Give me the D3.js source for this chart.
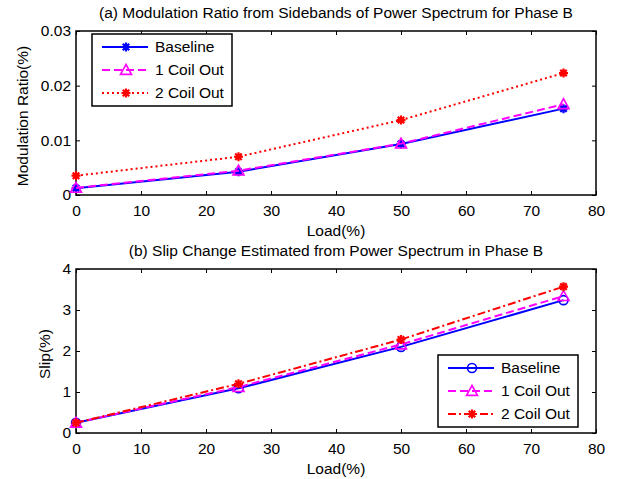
<!DOCTYPE html>
<html>
<head>
<meta charset="utf-8">
<script src="https://cdn.jsdelivr.net/npm/d3@7"></script>
<style>
  body { margin: 0; background: #fff; }
  text { font-family: "Liberation Sans", Arial, sans-serif; font-size: 15.5px; fill: #000; }
</style>
</head>
<body>
<svg id="chart" width="617" height="479"></svg>
<script>
// values
const loads = [0, 25, 50, 75];
const xTicks = [0, 10, 20, 30, 40, 50, 60, 70, 80];
const seriesNames = ['Baseline', '1 Coil Out', '2 Coil Out'];

const ratioBaseline = [0.00122, 0.00427, 0.00933, 0.0158];
const ratio1Coil = [0.0013, 0.00445, 0.0094, 0.0166];
const ratio2Coil = [0.00353, 0.007, 0.0137, 0.0223];
const ratioTicks = [0, 0.01, 0.02, 0.03];

const slipBaseline = [0.25, 1.09, 2.1, 3.24];
const slip1Coil = [0.25, 1.12, 2.16, 3.34];
const slip2Coil = [0.25, 1.2, 2.28, 3.57];
const slipTicks = [0, 1, 2, 3, 4];

const svg = d3.select('#chart');
const x = d3.scaleLinear().domain([0, 80]).range([76, 596]);

function drawMarker(g, shape, color, cx, cy) {
  if (shape === 'circle') {
    g.append('circle').attr('cx', cx).attr('cy', cy).attr('r', 4.5)
      .attr('fill', 'none').attr('stroke', color).attr('stroke-width', 1.6);
  } else if (shape === 'triangle') {
    const s = 5.5;
    g.append('path')
      .attr('d', `M${cx},${cy - s}L${cx + s},${cy + s * 0.8}L${cx - s},${cy + s * 0.8}Z`)
      .attr('fill', 'none').attr('stroke', color).attr('stroke-width', 1.6);
  } else {
    const r = 4.5, d = r * 0.72;
    g.append('path')
      .attr('d', `M${cx - r},${cy}H${cx + r}M${cx},${cy - r}V${cy + r}` +
        `M${cx - d},${cy - d}L${cx + d},${cy + d}M${cx - d},${cy + d}L${cx + d},${cy - d}`)
      .attr('stroke', color).attr('stroke-width', 2.2).attr('fill', 'none');
  }
}

function label(txt, tx, ty, rot) {
  svg.append('text')
    .attr('transform', `translate(${tx},${ty})` + (rot ? ' rotate(-90)' : ''))
    .attr('text-anchor', 'middle')
    .attr('dy', '0.35em')
    .text(txt);
}

function panel(opt) {
  const y = d3.scaleLinear().domain(opt.yDomain).range([opt.bottom, opt.top]);
  const g = svg.append('g');

  g.append('g').attr('transform', `translate(0,${opt.bottom})`)
    .call(d3.axisBottom(x).tickValues(xTicks).tickSizeInner(-4).tickSizeOuter(0).tickPadding(10));
  g.append('g').attr('transform', `translate(0,${opt.top})`)
    .call(d3.axisTop(x).tickValues(xTicks).tickSizeInner(-4).tickSizeOuter(0).tickFormat(''));
  g.append('g').attr('transform', `translate(${x.range()[0]},0)`)
    .call(d3.axisLeft(y).tickValues(opt.yTicks).tickSizeInner(-4).tickSizeOuter(0)
      .tickPadding(5).tickFormat(opt.fmt));
  g.append('g').attr('transform', `translate(${x.range()[1]},0)`)
    .call(d3.axisRight(y).tickValues(opt.yTicks).tickSizeInner(-4).tickSizeOuter(0).tickFormat(''));
  g.selectAll('.domain').remove();
  g.selectAll('.tick line').attr('stroke', '#000').attr('stroke-width', 1);
  g.selectAll('.tick text').style('font-size', '15.5px').style('font-family', '"Liberation Sans", Arial, sans-serif');

  g.append('rect')
    .attr('x', x.range()[0]).attr('y', opt.top)
    .attr('width', x.range()[1] - x.range()[0]).attr('height', opt.bottom - opt.top)
    .attr('fill', 'none').attr('stroke', '#000').attr('stroke-width', 1.5);

  const line = d3.line().x((d, i) => x(loads[i])).y(d => y(d));
  opt.series.forEach(s => {
    g.append('path').datum(s.values).attr('d', line)
      .attr('fill', 'none').attr('stroke', s.color).attr('stroke-width', 2)
      .attr('stroke-dasharray', s.dash);
    s.values.forEach((v, i) => drawMarker(g, s.shape, s.color, x(loads[i]), y(v)));
  });

  // legend
  const L = opt.legend;
  const lg = svg.append('g');
  lg.append('rect').attr('x', L.x).attr('y', L.y).attr('width', L.w).attr('height', L.h)
    .attr('fill', '#fff').attr('stroke', '#000').attr('stroke-width', 1.5);
  opt.series.forEach((s, i) => {
    const ry = L.y + 13 + i * 23;
    lg.append('line').attr('x1', L.x + 10).attr('x2', L.x + 56).attr('y1', ry).attr('y2', ry)
      .attr('stroke', s.color).attr('stroke-width', 2).attr('stroke-dasharray', s.dash);
    drawMarker(lg, s.shape, s.color, L.x + 34, ry);
    lg.append('text')
      .attr('x', L.x + 63).attr('y', ry)
      .attr('dy', '0.35em').text(seriesNames[i]);
  });

  label(opt.title, 336, opt.top - 18);
  label('Load(%)', 336, opt.bottom + 36);
  label(opt.yLabel, opt.yLabelX, (opt.top + opt.bottom) / 2 + 3, true);
}

panel({
  top: 31, bottom: 195, yDomain: [0, 0.03], yTicks: ratioTicks,
  fmt: d => d === 0 ? '0' : d3.format('.2f')(d),
  title: '(a) Modulation Ratio from Sidebands of Power Spectrum for Phase B',
  yLabel: 'Modulation Ratio(%)', yLabelX: 23,
  series: [
    { values: ratioBaseline, color: '#0000ff', dash: null, shape: 'star' },
    { values: ratio1Coil, color: '#ff00ff', dash: '8,4', shape: 'triangle' },
    { values: ratio2Coil, color: '#ff0000', dash: '2,3', shape: 'star' }
  ],
  legend: { x: 92, y: 34, w: 140, h: 72 }
});

panel({
  top: 269, bottom: 433, yDomain: [0, 4], yTicks: slipTicks,
  fmt: d3.format('d'),
  title: '(b) Slip Change Estimated from Power Spectrum in Phase B',
  yLabel: 'Slip(%)', yLabelX: 45,
  series: [
    { values: slipBaseline, color: '#0000ff', dash: null, shape: 'circle' },
    { values: slip1Coil, color: '#ff00ff', dash: '8,4', shape: 'triangle' },
    { values: slip2Coil, color: '#ff0000', dash: '8,3,2,3', shape: 'star' }
  ],
  legend: { x: 438, y: 355, w: 140, h: 72 }
});
</script>
</body>
</html>
